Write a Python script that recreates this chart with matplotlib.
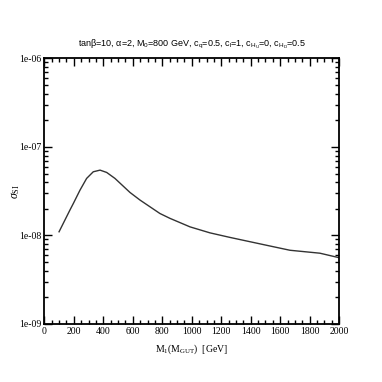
import matplotlib
matplotlib.use("Agg")
import matplotlib.pyplot as plt
import numpy as np
from matplotlib.ticker import MultipleLocator, LogLocator, FuncFormatter, NullFormatter

plt.rcParams['font.family'] = ['Liberation Serif', 'DejaVu Serif']
plt.rcParams['mathtext.fontset'] = 'custom'
plt.rcParams['mathtext.rm'] = 'Liberation Serif'
plt.rcParams['mathtext.it'] = 'Liberation Serif:italic'
plt.rcParams['mathtext.sf'] = 'Liberation Sans'

m1 = [100, 174, 197, 242, 287, 332, 378, 423, 479, 581, 649, 784, 852, 988, 1123, 1259, 1394, 1530, 1666, 1869, 2000]
sigma = [1.10e-8, 1.94e-8, 2.30e-8, 3.25e-8, 4.41e-8, 5.24e-8, 5.47e-8, 5.15e-8, 4.41e-8, 3.06e-8, 2.51e-8,
         1.77e-8, 1.56e-8, 1.25e-8, 1.07e-8, 9.5e-9, 8.5e-9, 7.6e-9, 6.8e-9, 6.3e-9, 5.6e-9]

fig = plt.figure(figsize=(3.82, 3.82), dpi=100)
ax = fig.add_axes([0.116, 0.152, 0.772, 0.695])
ax.plot(m1, sigma, color='#333333', lw=1.0)
ax.set_yscale('log')
ax.set_xlim(0, 2000)
ax.set_ylim(1e-9, 1e-6)

ax.xaxis.set_major_locator(MultipleLocator(200))
ax.xaxis.set_minor_locator(MultipleLocator(50))
ax.yaxis.set_major_locator(LogLocator(base=10, numticks=10))
ax.yaxis.set_minor_locator(LogLocator(base=10, subs=np.arange(2, 10), numticks=10))
ax.yaxis.set_minor_formatter(NullFormatter())
ax.yaxis.set_major_formatter(FuncFormatter(lambda v, p: "1e-%02d" % int(round(-np.log10(v)))))

ax.tick_params(which='both', direction='in', top=True, right=True, labelsize=7, width=1.0)
ax.tick_params(which='major', length=6, pad=2)
ax.tick_params(which='minor', length=3)
for s in ax.spines.values():
    s.set_linewidth(1.3)

ax.set_xlabel(r"M$_{\rm 1}$(M$_{\rm GUT}$)  [GeV]", fontsize=7, labelpad=5)
ax.set_ylabel(r"$\sigma_{\rm SI}$", fontsize=8.5)
ax.yaxis.set_label_coords(-0.075, 0.5)
ax.set_title(r"tan$\mathsf{\beta}$=10, $\mathsf{\alpha}$=2, M$_\mathsf{0}$=800 GeV, c$_\mathsf{q}$=0.5, "
             r"c$_\mathsf{l}$=1, c$_{\mathsf{H_U}}$=0, c$_{\mathsf{H_D}}$=0.5",
             fontsize=6.5, pad=9, family='Liberation Sans')

fig.savefig("out.png", dpi=100)
